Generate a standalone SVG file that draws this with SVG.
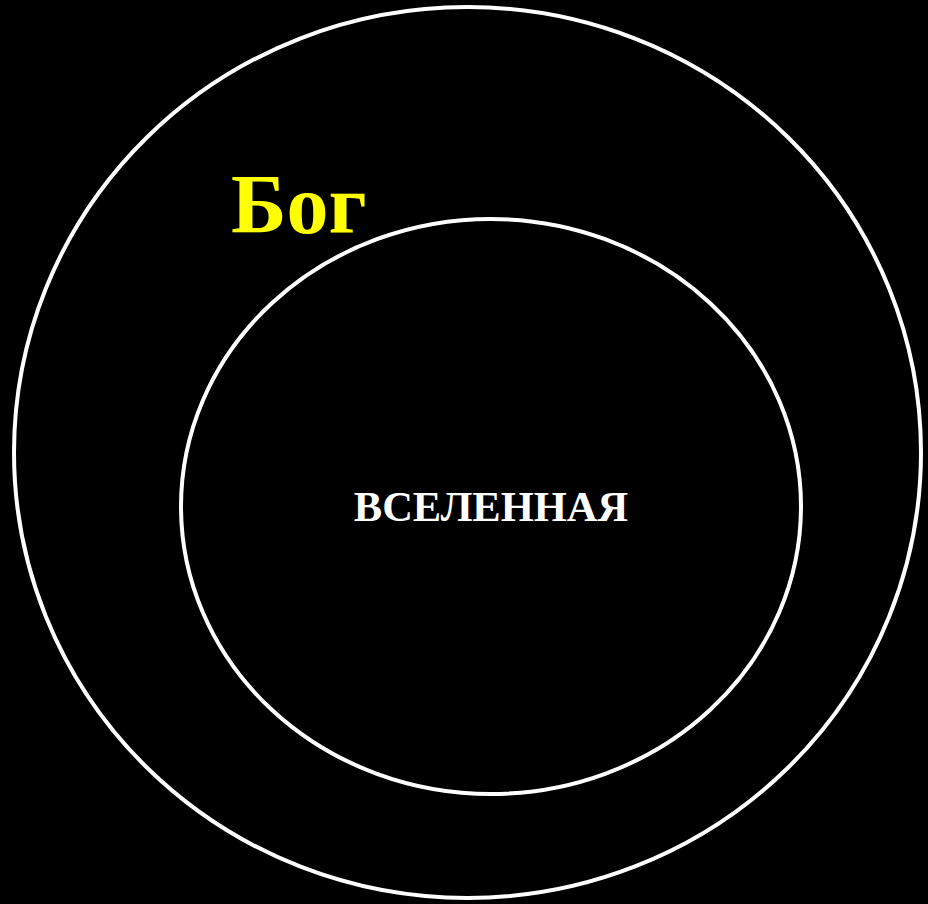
<svg xmlns="http://www.w3.org/2000/svg" width="928" height="904" viewBox="0 0 928 904">
<style>
.ring{fill:none;stroke:#fff;stroke-width:4}
.lbl{font-family:"Liberation Serif","Times New Roman",serif;font-weight:bold}
</style>
<rect x="0" y="0" width="928" height="904" fill="#000"/>
<g id="god">
<ellipse class="ring" cx="467.5" cy="452.5" rx="453.5" ry="445.5"/>
<text class="lbl" x="231" y="233" font-size="84" fill="#ffff00">Бог</text>
</g>
<g id="universe">
<ellipse class="ring" cx="491" cy="506.5" rx="310" ry="287.5"/>
<text class="lbl" x="491" y="521" font-size="42.5" fill="#fff" text-anchor="middle">ВСЕЛЕННАЯ</text>
</g>
<g id="connectors"/>
</svg>
